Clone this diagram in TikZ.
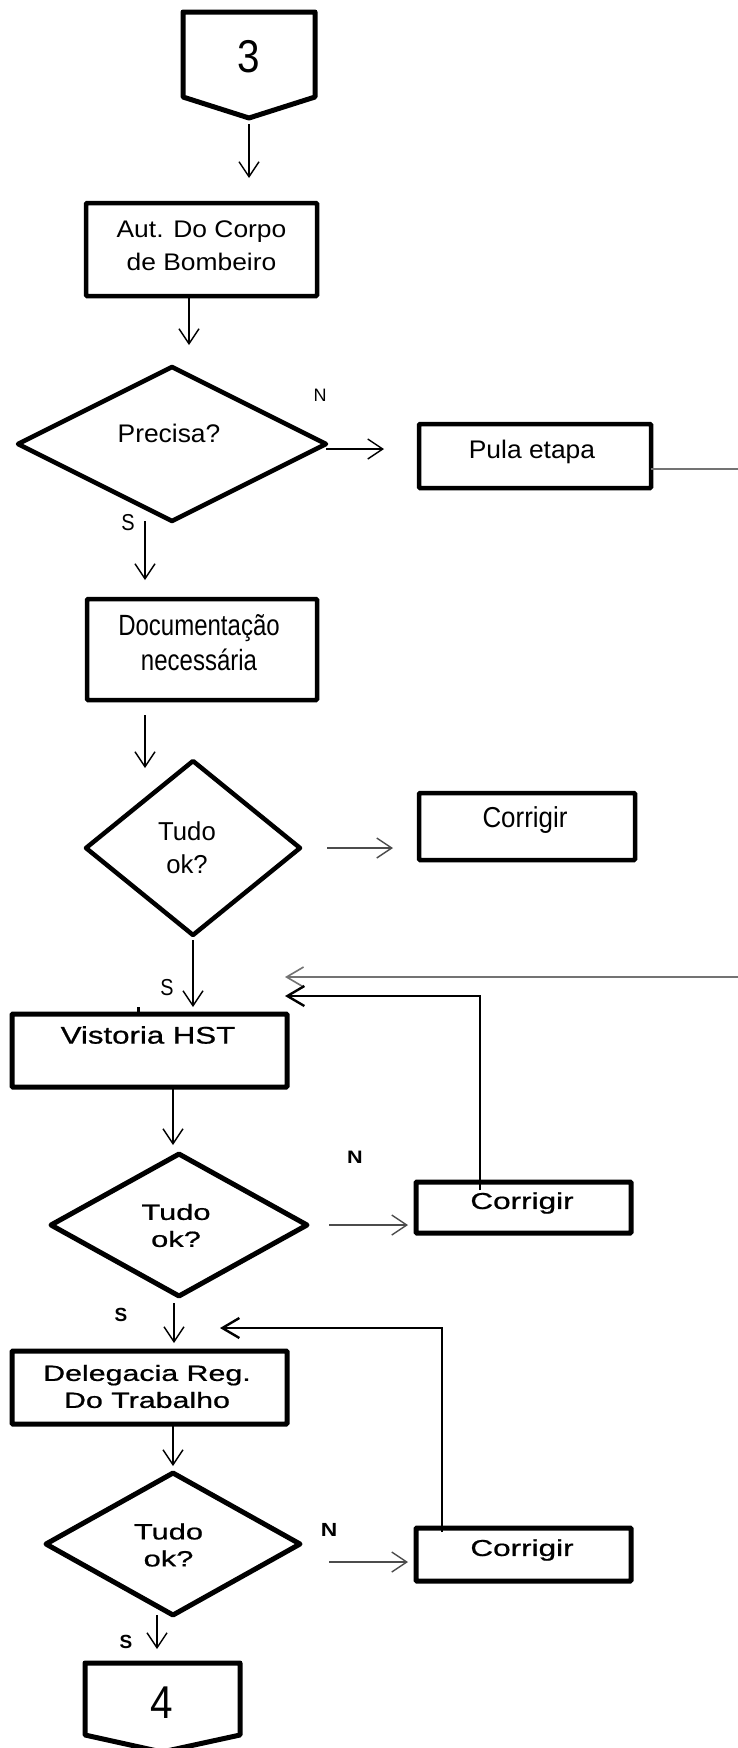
\documentclass[tikz,border=0pt]{standalone}
\usepackage{fontspec}
\setmainfont{Liberation Sans}
\newfontfamily\heavyfont{Liberation Sans}[FakeBold=0.7]
\usetikzlibrary{shapes.geometric,arrows.meta}
\newcommand{\stretchtxt}[2]{\scalebox{#1}[1]{#2}}
\newcommand{\stretchxy}[3]{\scalebox{#1}[#2]{#3}}
\tikzset{
  box/.style={draw, rectangle, line width=4.5pt, inner sep=0pt, outer sep=0pt, rounded corners=1pt},
  decision/.style={draw, diamond, line width=4.5pt, inner sep=0pt, outer sep=0pt, line join=round},
  connector/.style={draw, line width=5pt, line join=round},
  txt/.style={inner sep=0pt, outer sep=0pt, align=center},
  arr/.style={line width=1.4pt, -{Straight Barb[length=15pt,width=20pt,line width=1.4pt]}},
  harr/.style={arr, draw=black!70, line width=1.8pt},
  back/.style={line width=1.4pt, -{Straight Barb[length=17pt,width=20pt,line width=2.4pt]}},
  far/.style={line width=2pt, draw=black!55, -{Straight Barb[length=17pt,width=20pt,line width=1.6pt]}},
}
\begin{document}
\begin{tikzpicture}[x=1pt,y=-1pt]
\useasboundingbox[fill=white] (0,0) rectangle (738,1748);

% off-page connector 3
\draw[connector] (183,12) -- (315,12) -- (315,97) -- (249,118) -- (183,97) -- cycle;
\node[txt, font=\fontsize{46}{46}\selectfont] (n3) at (249,57) {\stretchtxt{0.88}{3}};
\coordinate (p3tip) at (249,118);

% fire department authorisation
\node[box, minimum width=231pt, minimum height=93pt] (aut) at (201.5,249.5) {};
\node[txt, font=\fontsize{24}{33}\selectfont] (autT) at (201.5,246) {\stretchtxt{1.1}{Aut. Do Corpo}\\\stretchtxt{1.1}{de Bombeiro}};
\draw[arr, shorten <=6pt, shorten >=25pt] (p3tip) -- (p3tip |- aut.north);

% decision: needed?
\node[decision, minimum width=308pt, minimum height=154pt] (d1) at (172,444) {};
\node[txt, font=\fontsize{24}{30}\selectfont] (d1T) at (169,433) {\stretchxy{1.1}{1.06}{Precisa?}};
\coordinate (autb) at ([xshift=-12.5pt]aut.south);
\draw[arr, shorten >=22pt] (autb) -- (autb |- d1.north);

% skip step
\node[box, minimum width=232pt, minimum height=64pt] (pula) at (535,456) {};
\node[txt, font=\fontsize{24}{30}\selectfont] (pulaT) at (532,452) {\stretchxy{1.1}{1.06}{Pula etapa}};
\coordinate (d1r) at ([yshift=-5pt]d1.east);
\draw[arr, shorten >=35pt] (d1r) -- (d1r -| pula.west);
\node[txt, font=\fontsize{18}{18}\selectfont] (nN1) at (320,395) {N};

% documents
\node[box, minimum width=230pt, minimum height=101pt] (doc) at (202,649.5) {};
\node[txt, font=\fontsize{24}{35}\selectfont] (docT) at (199,643) {\stretchxy{1.0}{1.22}{Documentação}\\\stretchxy{1.0}{1.22}{necessária}};
\coordinate (d1b) at ([xshift=-27pt]d1.south);
\draw[arr, shorten >=19pt] (d1b) -- (d1b |- doc.north);
\node[txt, font=\fontsize{20}{20}\selectfont] (sS1) at (128,523) {\stretchxy{1}{1.15}{S}};

% decision: all ok? (1)
\node[decision, minimum width=214pt, minimum height=174pt] (d2) at (193,848) {};
\node[txt, font=\fontsize{24}{33}\selectfont] (d2T) at (187,848) {\stretchxy{1.07}{1.08}{Tudo}\\\stretchxy{1.07}{1.08}{ok?}};
\coordinate (docb) at ([xshift=-57pt]doc.south);
\draw[arr, shorten <=15pt, shorten >=-7pt] (docb) -- (docb |- d2.north);

% correct (1)
\node[box, minimum width=216pt, minimum height=67pt] (c1) at (527,826.5) {};
\node[txt, font=\fontsize{24}{30}\selectfont] (c1T) at (525,820) {\stretchxy{1.08}{1.2}{Corrigir}};
\draw[harr, shorten <=27pt, shorten >=26pt] (d2.east) -- (d2.east -| c1.west);

% HST inspection
\node[box, line width=5pt, minimum width=275pt, minimum height=73pt] (vis) at (149.5,1050.5) {};
\node[txt, font=\heavyfont\fontsize{24}{28}\selectfont] (visT) at (148,1035) {\stretchtxt{1.3}{Vistoria HST}};
\draw[arr, shorten <=5pt, shorten >=7pt] (d2.south) -- (d2.south |- vis.north);
\node[txt, font=\fontsize{22}{22}\selectfont] (sS2) at (167,988) {\stretchxy{0.9}{1.05}{S}};
\coordinate (tick) at ([xshift=-11.5pt]vis.north);
\draw[line width=3pt] (tick) -- ++(0,-7);

% return line from the skipped step
\coordinate (back1) at (285,977);
\coordinate (rail) at (746,700);
\coordinate (pulaout) at ([yshift=-13pt]pula.east);
\draw[far] (pulaout) -| (rail) |- (back1);

% decision: all ok? (2)
\node[decision, line width=5pt, minimum width=256pt, minimum height=142pt] (d3) at (179,1225) {};
\node[txt, font=\heavyfont\fontsize{22}{27}\selectfont] (d3T) at (176,1225.5) {\stretchtxt{1.4}{Tudo}\\\stretchtxt{1.4}{ok?}};
\coordinate (d3t) at ([xshift=-6pt]d3.north);
\draw[arr, shorten >=9pt] (d3t |- vis.south) -- (d3t);
\node[txt, font=\bfseries\fontsize{18}{18}\selectfont] (nN2) at (355,1157) {\stretchtxt{1.2}{N}};

% correct (2)
\node[box, line width=5pt, minimum width=215pt, minimum height=51pt] (c2) at (523.5,1207.5) {};
\node[txt, font=\heavyfont\fontsize{23}{27}\selectfont] (c2T) at (522,1203) {\stretchtxt{1.37}{Corrigir}};
\draw[harr, shorten <=22pt, shorten >=8pt] (d3.east) -- (d3.east -| c2.west);
\coordinate (back2) at (285,996);
\coordinate (c2up) at ([xshift=-43.5pt,yshift=-8pt]c2.north);
\draw[back] (c2up) |- (back2);

% regional labour office
\node[box, line width=5pt, minimum width=275pt, minimum height=73pt] (del) at (149.5,1387.5) {};
\node[txt, font=\heavyfont\fontsize{22}{27}\selectfont] (delT) at (147,1386.5) {\stretchtxt{1.38}{Delegacia Reg.}\\\stretchtxt{1.38}{Do Trabalho}};
\coordinate (d3b) at ([xshift=-5pt]d3.south);
\draw[arr, shorten <=7pt, shorten >=8pt] (d3b) -- (d3b |- del.north);
\node[txt, font=\bfseries\fontsize{19}{19}\selectfont] (sS3) at (121,1315) {S};

% decision: all ok? (3)
\node[decision, line width=5pt, minimum width=254pt, minimum height=142pt] (d4) at (173,1544) {};
\node[txt, font=\heavyfont\fontsize{22}{27}\selectfont] (d4T) at (168.5,1545) {\stretchtxt{1.4}{Tudo}\\\stretchtxt{1.4}{ok?}};
\draw[arr, shorten >=7pt] (d4.north |- del.south) -- (d4.north);
\node[txt, font=\bfseries\fontsize{19}{19}\selectfont] (nN3) at (329,1530) {\stretchtxt{1.2}{N}};

% correct (3)
\node[box, line width=5pt, minimum width=215pt, minimum height=53pt] (c3) at (523.5,1554.5) {};
\node[txt, font=\heavyfont\fontsize{23}{27}\selectfont] (c3T) at (522,1550) {\stretchtxt{1.37}{Corrigir}};
\coordinate (d4r) at ([yshift=-18pt]d4.east);
\draw[harr, shorten <=29pt, shorten >=8pt] (d4r) -- (d4r -| c3.west);
\coordinate (back3) at (220,1328);
\coordinate (c3up) at ([xshift=-81.5pt,yshift=-4pt]c3.north);
\draw[back] (c3up) |- (back3);

% off-page connector 4
\draw[connector] (85,1663) -- (240,1663) -- (240,1735) -- (162,1752) -- (85,1735) -- cycle;
\node[txt, font=\fontsize{46}{46}\selectfont] (n4) at (162,1703) {\stretchtxt{0.88}{4}};
\coordinate (p4top) at (157,1663);
\coordinate (d4b) at ([xshift=-16pt]d4.south);
\draw[arr, shorten >=14pt] (d4b) -- (d4b |- p4top);
\node[txt, font=\bfseries\fontsize{19}{19}\selectfont] (sS4) at (126,1642) {S};
\end{tikzpicture}
\end{document}
